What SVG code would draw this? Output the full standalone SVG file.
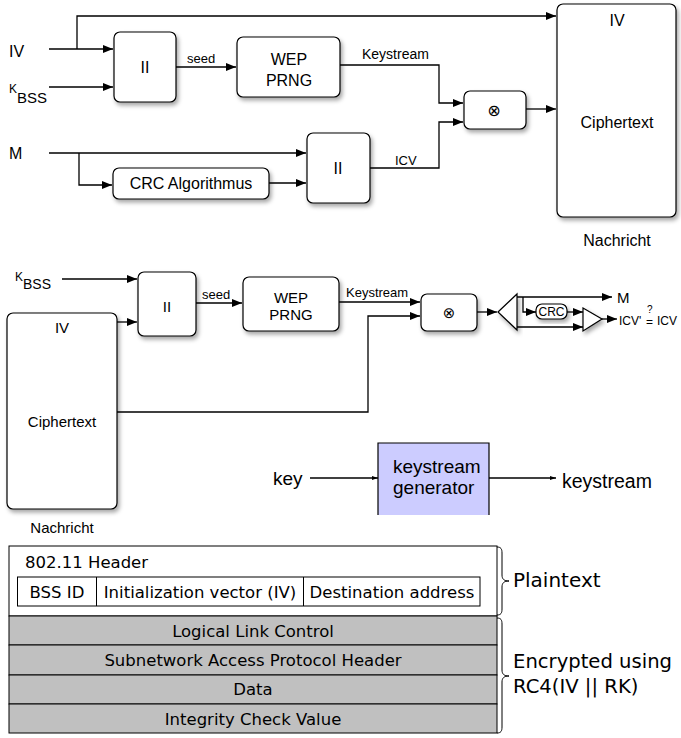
<svg xmlns="http://www.w3.org/2000/svg" width="681" height="738" viewBox="0 0 681 738">
<style>
.box{fill:#fff;stroke:#000;stroke-width:1.2;filter:url(#sh)}
.ln{fill:none;stroke:#000;stroke-width:1.3}
.ar{marker-end:url(#ah)}
.ar2{marker-end:url(#ah2)}
.t{font-family:"Liberation Sans",Arial,sans-serif;fill:#000}
.d{font-family:"DejaVu Sans",Verdana,sans-serif;fill:#000}
.tb{fill:#fff;stroke:#000;stroke-width:1}
.gr{fill:#c0c0c0;stroke:#000;stroke-width:1}
</style>
<defs>
<filter id="sh" x="-20%" y="-20%" width="150%" height="150%">
<feDropShadow dx="2" dy="3" stdDeviation="2" flood-color="#000" flood-opacity="0.35"/>
</filter>
<marker id="ah" viewBox="0 0 10 8" refX="10" refY="4" markerWidth="10" markerHeight="8" markerUnits="userSpaceOnUse" orient="auto">
<path d="M0,0 L10,4 L0,8 Z" fill="#000"/>
</marker>
<marker id="ah2" viewBox="0 0 6 4" refX="6" refY="2" markerWidth="6" markerHeight="4" markerUnits="userSpaceOnUse" orient="auto">
<path d="M0,0 L6,2 L0,4 Z" fill="#000"/>
</marker>
</defs>

<g id="connectors">
<path class="ln ar" d="M49,49 H113"/>
<path class="ln ar" d="M77,49 V16 H556"/>
<path class="ln ar" d="M49,87 H113"/>
<path class="ln ar" d="M176,67 H236"/>
<path class="ln ar" d="M340,65 H439 V103 H463"/>
<path class="ln ar" d="M49,153 H306"/>
<path class="ln ar" d="M79,153 V185 H112"/>
<path class="ln ar" d="M269,183 H306"/>
<path class="ln ar" d="M370,168 H439 V122 H463"/>
<path class="ln ar" d="M526,109 H556"/>
<path class="ln ar" d="M62,279 H137"/>
<path class="ln ar" d="M117,322 H137"/>
<path class="ln ar" d="M196,303 H242"/>
<path class="ln ar" d="M339,302 H420"/>
<path class="ln ar" d="M117,412 H368 V316 H420"/>
<path class="ln ar" d="M477,312 H497"/>
<path class="ln ar" d="M517,297 H612"/>
<path class="ln ar" d="M523,297 V312 H536"/>
<path class="ln ar" d="M567,312 H583"/>
<path class="ln ar" d="M517,327 H583"/>
<path class="ln ar" d="M602,319 H617"/>
<path class="ln ar2" d="M310,478 H378"/>
<path class="ln ar2" d="M489,478 H556"/>
</g>

<g id="in-iv"><text class="t" x="9" y="57" font-size="16">IV</text></g>
<g id="in-kbss"><text class="t" x="9" y="93" font-size="12">K</text><text class="t" x="17" y="103" font-size="15">BSS</text></g>
<g id="in-m"><text class="t" x="9" y="159" font-size="16">M</text></g>
<g id="concat1"><rect class="box" x="114" y="32" width="62" height="70" rx="6"/><text class="t" x="145" y="73" font-size="16" text-anchor="middle">II</text></g>
<g id="lbl-seed1"><text class="t" x="187" y="63" font-size="13">seed</text></g>
<g id="prng1"><rect class="box" x="237" y="37" width="103" height="60" rx="6"/><text class="t" x="289" y="65" font-size="16" text-anchor="middle">WEP</text><text class="t" x="289" y="86" font-size="16" text-anchor="middle">PRNG</text></g>
<g id="lbl-ks1"><text class="t" x="362" y="59" font-size="14">Keystream</text></g>
<g id="crc"><rect class="box" x="113" y="168" width="156" height="31" rx="6"/><text class="t" x="191" y="189" font-size="16" text-anchor="middle">CRC Algorithmus</text></g>
<g id="concat2"><rect class="box" x="307" y="133" width="63" height="70" rx="6"/><text class="t" x="338" y="174" font-size="16" text-anchor="middle">II</text></g>
<g id="lbl-icv"><text class="t" x="395" y="165" font-size="13">ICV</text></g>
<g id="xor1"><rect class="box" x="464" y="91" width="62" height="38" rx="6"/><text class="d" x="494" y="116" font-size="16" text-anchor="middle">⊗</text></g>
<g id="msg1"><rect class="box" x="557" y="4" width="119" height="213" rx="6"/><text class="t" x="617" y="26" font-size="16" text-anchor="middle">IV</text><text class="t" x="617" y="128" font-size="16" text-anchor="middle">Ciphertext</text><text class="t" x="617" y="246" font-size="16" text-anchor="middle">Nachricht</text></g>

<g id="in-kbss2"><text class="t" x="15" y="281" font-size="12">K</text><text class="t" x="23" y="289" font-size="14">BSS</text></g>
<g id="concat3"><rect class="box" x="138" y="272" width="58" height="64" rx="6"/><text class="t" x="167" y="312" font-size="15" text-anchor="middle">II</text></g>
<g id="msg2"><rect class="box" x="7" y="313" width="110" height="196" rx="6"/><text class="t" x="62" y="333" font-size="15" text-anchor="middle">IV</text><text class="t" x="62" y="427" font-size="15" text-anchor="middle">Ciphertext</text><text class="t" x="62" y="533" font-size="15" text-anchor="middle">Nachricht</text></g>
<g id="lbl-seed2"><text class="t" x="202" y="299" font-size="13">seed</text></g>
<g id="prng2"><rect class="box" x="243" y="277" width="96" height="54" rx="6"/><text class="t" x="291" y="303" font-size="15" text-anchor="middle">WEP</text><text class="t" x="291" y="320" font-size="15" text-anchor="middle">PRNG</text></g>
<g id="lbl-ks2"><text class="t" x="346" y="297" font-size="13">Keystream</text></g>
<g id="xor2"><rect class="box" x="421" y="294" width="56" height="37" rx="6"/><text class="d" x="449" y="318" font-size="15" text-anchor="middle">⊗</text></g>
<g id="split"><path class="box" d="M498,312 L517,294 L517,330 Z"/></g>
<g id="crc2"><rect class="box" x="536" y="304" width="31" height="15" rx="6"/><text class="t" x="551.5" y="316" font-size="12" text-anchor="middle">CRC</text></g>
<g id="cmp"><path class="box" d="M583,308 L602,319 L583,331 Z"/></g>
<g id="out-m"><text class="t" x="617" y="303" font-size="15">M</text></g>
<g id="out-icv"><text class="t" x="619" y="325" font-size="12">ICV'</text><text class="t" x="646" y="326" font-size="12">=</text><text class="t" x="647" y="313" font-size="10">?</text><text class="t" x="657" y="325" font-size="12">ICV</text></g>

<g id="key"><text class="t" x="273" y="485" font-size="19">key</text></g>
<g id="ksgen"><rect x="378" y="443" width="111" height="72" fill="#ccccff"/><path d="M378,515 V443 H489 V515" fill="none" stroke="#000" stroke-width="1.2"/><text class="t" x="393" y="473" font-size="19">keystream</text><text class="t" x="393" y="494" font-size="19">generator</text></g>
<g id="ks-out"><text class="t" x="562" y="488" font-size="19.5">keystream</text></g>

<g id="header">
<rect class="tb" x="9" y="546" width="488" height="70"/>
<text class="d" x="25" y="568" font-size="16.5">802.11 Header</text>
<rect class="tb" x="17.5" y="577" width="462.5" height="29"/>
<line x1="96.5" y1="577" x2="96.5" y2="606" stroke="#000"/>
<line x1="303.5" y1="577" x2="303.5" y2="606" stroke="#000"/>
<text class="d" x="57" y="598" font-size="16.5" text-anchor="middle">BSS ID</text>
<text class="d" x="200" y="598" font-size="16.5" text-anchor="middle">Initialization vector (IV)</text>
<text class="d" x="392" y="598" font-size="16.5" text-anchor="middle">Destination address</text>
</g>
<g id="llc"><rect class="gr" x="9" y="616" width="488" height="29"/><text class="d" x="253" y="637" font-size="16.5" text-anchor="middle">Logical Link Control</text></g>
<g id="snap"><rect class="gr" x="9" y="645" width="488" height="30"/><text class="d" x="253" y="666" font-size="16.5" text-anchor="middle">Subnetwork Access Protocol Header</text></g>
<g id="data"><rect class="gr" x="9" y="675" width="488" height="29"/><text class="d" x="253" y="695" font-size="16.5" text-anchor="middle">Data</text></g>
<g id="icv"><rect class="gr" x="9" y="704" width="488" height="29"/><text class="d" x="253" y="725" font-size="16.5" text-anchor="middle">Integrity Check Value</text></g>
<g id="brace-plain">
<path d="M497,547 C501,547 502,549 502,553 L502,575 C502,579 504,581 509,581 C504,581 502,583 502,587 L502,609 C502,613 501,615 497,615" fill="none" stroke="#000" stroke-width="1"/>
<text class="d" x="513" y="587" font-size="20">Plaintext</text>
</g>
<g id="brace-enc">
<path d="M497,618 C501,618 502,620 502,624 L502,670 C502,674 504,676 509,676 C504,676 502,678 502,682 L502,727 C502,731 501,733 497,733" fill="none" stroke="#000" stroke-width="1"/>
<text class="d" x="513" y="668" font-size="19.6">Encrypted using</text>
<text class="d" x="513" y="693" font-size="19.6">RC4(IV || RK)</text>
</g>
</svg>
